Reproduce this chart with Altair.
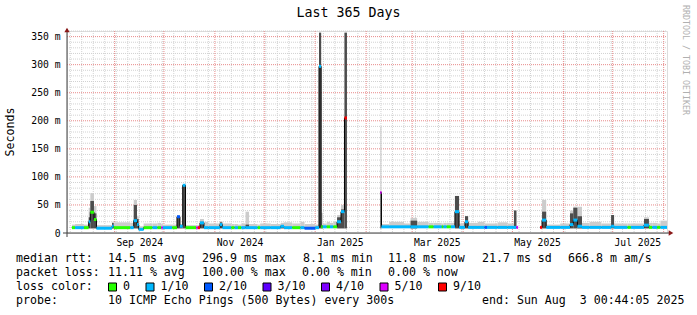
import altair as alt
import pandas as pd

FONT = "DejaVu Sans Mono"
N = None

# ---------------- data (day offsets from window start 2024-08-03 00:44:05) ----------------
seg_start = [0.0, 3.0, 4.9, 10.3, 13.2, 14.2, 16.4, 17.9, 27.4, 28.4,
             38.5, 40.6, 42.6, 43.6, 46.6, 52.0, 55.0, 57.3, 58.3, 64.0,
             66.9, 68.7, 70.4, 72.1, 78.6, 79.6, 80.9, 83.3, 86.0, 93.0,
             94.5, 100.0, 102.0, 104.0, 106.0, 108.6, 110.7, 116.0, 117.5, 124.0,
             130.0, 132.0, 137.0, 142.0, 144.5, 151.0, 153.3, 154.6, 155.6, 158.0,
             160.0, 162.0, 164.3, 166.7, 168.8, 170.3, 190.6, 191.3, 196.0, 205.0,
             209.0, 213.0, 220.0, 223.0, 228.0, 229.0, 231.0, 233.5, 236.0, 238.5,
             242.1, 244.0, 250.0, 254.0, 255.5, 262.0, 268.0, 271.9, 273.4, 274.4,
             287.8, 289.0, 291.5, 300.0, 306.0, 308.0, 310.5, 313.3, 318.0, 325.0,
             331.0, 332.8, 341.0, 343.0, 351.0, 354.0, 356.0, 359.0, 361.0]
# median rtt (ms)
seg_median = [N, 9.5, 9.5, 9.5, 20, 37, 24, 8.5, 12, 9.5,
              9.5, 22, 15, 6.5, 9.5, 9.5, 9.5, 9.5, 9.5, 9.5,
              29, 12, 85, 9.5, 9.5, 9.5, 18, 9.5, 9.5, 15,
              9.5, 9.5, 9.5, 9.5, 9.5, 9.5, 9.5, 9.5, 9.5, 9.5,
              12, 9.5, 9.5, 9.5, 8.5, 9.5, 297, 11, 11, 11,
              11, 11, 20, 38, 205, N, 72, 11, 11, 11,
              11, 11, 11, 11, 11, 11, 11, 11, 38, 10,
              20, 10, 10, 10, 10, 10, 10, 10, 10, N,
              10, 23, 10, 10, 15, 23, 12, 10, 10, 10,
              12, 10, 10, 10, 14, 10, 10, 10, 10]
# top of dense (dark) smoke (ms)
seg_dense = [N, N, N, N, 28, 57, 35, N, 18, N,
             N, 50, 25, N, N, N, N, N, N, N,
             30, 14, 85, N, N, N, 20, N, N, 19,
             N, N, N, N, N, 15, N, N, N, N,
             14, N, N, N, N, N, 357, 14, N, N,
             N, N, 28, 42, 357, N, 72, N, N, N,
             22, N, N, N, N, N, N, N, 66, N,
             30, N, N, N, N, N, N, 40, N, N,
             N, 38, N, N, 35, 45, 30, N, N, N,
             32, N, N, N, 25, N, N, N, N]
# top of light smoke (ms)
seg_smoke = [N, 15, 16, 15, 45, 71, 48, 14, 20, 19,
             18, 59, 30, 12, 17, 17, 18, 16, 15, 15,
             31, 16, 86, 14, 14, 14, 25, 20, 17, 21,
             17, 16, 16, 15, 17, 38, 16, 15, 17, 16,
             18, 19, 17, 20, 16, 15, 357, 36, 17, 20,
             18, 20, 32, 50, 357, N, 190, 16, 20, 17,
             27, 20, 18, 18, 17, 18, 18, 18, 66, 17,
             30, 18, 20, 17, 17, 19, 17, 41, 12, N,
             12, 59, 15, 17, 40, 47, 47, 18, 20, 17,
             32, 17, 17, 17, 28, 18, 18, 17, 22]
# packet loss (pings lost out of 10)
seg_loss = [N, 0, 1, 0, 1, 0, 0, 1, 1, 0,
            1, 1, 1, 1, 0, 1, 0, 5, 1, 0,
            2, 1, 1, 0, 5, 9, 1, 1, 1, 1,
            1, 0, 1, 0, 1, 1, 1, 0, 1, 1,
            1, 1, 0, 1, 2, 1, 1, 0, 1, 0,
            1, 0, 1, 1, 9, N, 5, 1, 1, 1,
            1, 1, 0, 1, 0, 1, 0, 1, 1, 1,
            1, 1, 1, 2, 1, 1, 1, 1, 5, N,
            9, 1, 1, 1, 1, 1, 1, 1, 1, 1,
            1, 1, 0, 1, 1, 0, 1, 0, 1]
min_rtt = 8.1
window_days = 365

loss_levels = [0, 1, 2, 3, 4, 5, 9]
loss_labels = ["0", "1/10", "2/10", "3/10", "4/10", "5/10", "9/10"]
loss_colors = ["#26ff00", "#00b8ff", "#0059ff", "#5e00ff", "#7e00ff", "#dd00ff", "#ff0000"]

y_ticks = [0, 50, 100, 150, 200, 250, 300, 350]
y_minor = [10, 20, 30, 40, 60, 70, 80, 90, 110, 120, 130, 140, 160, 170, 180, 190,
           210, 220, 230, 240, 260, 270, 280, 290, 310, 320, 330, 340, 360]
month_starts = ["2024-09-01", "2024-10-01", "2024-11-01", "2024-12-01", "2025-01-01", "2025-02-01",
                "2025-03-01", "2025-04-01", "2025-05-01", "2025-06-01", "2025-07-01", "2025-08-01"]
label_months = ["2024-09-01", "2024-11-01", "2025-01-01", "2025-03-01", "2025-05-01", "2025-07-01"]
label_texts = ["Sep 2024", "Nov 2024", "Jan 2025", "Mar 2025", "May 2025", "Jul 2025"]

# ---------------- derived tables ----------------
t0 = pd.Timestamp("2024-08-03 00:44:05")
def days(s):
    return (pd.Timestamp(s) - t0) / pd.Timedelta(days=1)

month_days = [days(s) for s in month_starts]
label_days = [days(s) + 15 for s in label_months]
week_days = [days(d) for d in pd.date_range("2024-08-05", "2025-08-02", freq="7D")]

seg_end = seg_start[1:] + [window_days]
seg = pd.DataFrame({"start": seg_start, "end": seg_end, "med": seg_median,
                    "dense": seg_dense, "smoke": seg_smoke, "loss": seg_loss})
seg["lo"] = min_rtt
valid = seg[seg["med"].notna()].copy()
light = valid[valid["smoke"].notna()]
dense = valid[valid["dense"].notna()]

pts = []
run = 0
prev_valid = False
for i, r in seg.iterrows():
    if pd.isna(r["med"]):
        if prev_valid:
            run += 1
        prev_valid = False
        continue
    pts.append({"d": r["start"], "m": r["med"], "run": run})
    nxt_gap = (i + 1 >= len(seg)) or pd.isna(seg.loc[i + 1, "med"])
    if nxt_gap:
        pts.append({"d": r["end"], "m": r["med"], "run": run})
    prev_valid = True
line_df = pd.DataFrame(pts)

# ---------------- layout ----------------
W, H = 600, 202
X0, Y0 = 67, 31
def px(x):
    return x - X0
def py(y):
    return y - Y0

xscale = alt.Scale(domain=[0, window_days], nice=False, zero=False)
yscale = alt.Scale(domain=[0, 360], nice=False, zero=False)

expr = ""
for d, t in zip(label_days, label_texts):
    expr += f"abs(datum.value - {d:.4f}) < 0.5 ? '{t}' : "
expr += "''"

xaxis = alt.Axis(values=label_days, labelExpr=expr, labelFont=FONT, labelFontSize=9.7,
                 labelColor="#000000", labelPadding=4, ticks=False, tickSize=0, domain=False,
                 grid=False, title=None, labelFlush=False, labelOverlap=False, labelAngle=0)
yaxis = alt.Axis(values=y_ticks,
                 labelExpr="datum.value == 0 ? '0\u00a0\u00a0' : datum.value + ' m'",
                 labelFont=FONT, labelFontSize=9.7, labelColor="#000000", labelPadding=7,
                 ticks=False, tickSize=0, domain=False, grid=False, title=None,
                 labelFlush=False, labelOverlap=False)

def X(f):
    return alt.X(f, scale=xscale, axis=xaxis, title=None)
def Y(f):
    return alt.Y(f, scale=yscale, axis=yaxis, title=None)

one = pd.DataFrame({"k": [0]})
MINOR = "#d2d2d2"
MAJOR = "#e88a8a"

layers = []
layers.append(alt.Chart(pd.DataFrame({"v": y_minor})).mark_rule(color=MINOR, strokeDash=[1, 1], strokeWidth=1)
              .encode(y=Y("v:Q"), x=alt.value(0), x2=alt.value(W)))
layers.append(alt.Chart(pd.DataFrame({"d": week_days})).mark_rule(color=MINOR, strokeDash=[1, 1], strokeWidth=1)
              .encode(x=X("d:Q"), y=alt.value(0), y2=alt.value(H)))
layers.append(alt.Chart(pd.DataFrame({"v": y_ticks[1:]})).mark_rule(color=MAJOR, strokeDash=[1, 1], strokeWidth=1)
              .encode(y=Y("v:Q"), x=alt.value(0), x2=alt.value(W)))
layers.append(alt.Chart(pd.DataFrame({"d": month_days})).mark_rule(color=MAJOR, strokeDash=[1, 1], strokeWidth=1)
              .encode(x=X("d:Q"), y=alt.value(0), y2=alt.value(H)))

layers.append(alt.Chart(light).mark_rect(color="#cccccc")
              .encode(x=X("start:Q"), x2="end:Q", y=Y("med:Q"), y2="smoke:Q"))
layers.append(alt.Chart(dense).mark_rect(color="#4d4d4d")
              .encode(x=X("start:Q"), x2="end:Q", y=Y("lo:Q"), y2="dense:Q"))
layers.append(alt.Chart(line_df).mark_line(color="#000000", strokeWidth=1, interpolate="step-after")
              .encode(x=X("d:Q"), y=Y("m:Q"), detail="run:N"))
layers.append(alt.Chart(valid).mark_rule(strokeWidth=3)
              .encode(x=X("start:Q"), x2="end:Q", y=Y("med:Q"),
                      color=alt.Color("loss:O", scale=alt.Scale(domain=loss_levels, range=loss_colors),
                                      legend=None)))

AX = "#404040"
ARROW = "#8b1a1a"
layers.append(alt.Chart(one).mark_rule(color=AX, strokeWidth=1)
              .encode(x=alt.value(0), y=alt.value(py(237)), y2=alt.value(py(29))))
layers.append(alt.Chart(one).mark_rule(color=AX, strokeWidth=1)
              .encode(y=alt.value(H), x=alt.value(px(63)), x2=alt.value(px(670))))
layers.append(alt.Chart(one).mark_point(shape="triangle-up", filled=True, size=28, color=ARROW, opacity=1)
              .encode(x=alt.value(0), y=alt.value(py(30))))
layers.append(alt.Chart(one).mark_point(shape="triangle-right", filled=True, size=28, color=ARROW, opacity=1)
              .encode(x=alt.value(px(671)), y=alt.value(H)))

def txt(s, x, y, size=11.6, align="left", angle=0, color="#000000"):
    return (alt.Chart(one).mark_text(text=s, font=FONT, fontSize=size, align=align, baseline="middle",
                                     angle=angle, color=color)
            .encode(x=alt.value(px(x)), y=alt.value(py(y))))

NB = "\u00a0"
layers.append(txt("Last 365 Days", 348.5, 13, size=13.3, align="center"))
layers.append(txt("Seconds", 11, 132, angle=270, align="center"))
layers.append(txt("RRDTOOL / TOBI OETIKER", 685, 60, size=8.3, align="center", angle=90, color="#b0b0b0"))

rows = [
    (259, [(16, "median rtt:"), (108, "14.5 ms avg"), (202, "296.9 ms max"), (303, "8.1 ms min"),
           (388, "11.8 ms now"), (482, "21.7 ms sd"), (568, "666.8 m am/s")]),
    (273, [(16, "packet loss:"), (108, "11.11 % avg"), (202, "100.00 % max"), (302, "0.00 % min"),
           (388, "0.00 % now")]),
    (287, [(16, "loss color:")]),
    (301, [(16, "probe:"), (108, "10 ICMP Echo Pings (500 Bytes) every 300s"),
           (482, "end: Sun Aug" + NB + NB + "3 00:44:05 2025")]),
]
for y, chunks in rows:
    for x, s in chunks:
        layers.append(txt(s.replace("  ", NB + NB), x, y))

box_x = [108.5, 146, 204.5, 263, 321.5, 380, 438.5]
for bx, lab, col in zip(box_x, loss_labels, loss_colors):
    layers.append(alt.Chart(one).mark_rect(color=col, stroke="#000000", strokeWidth=1)
                  .encode(x=alt.value(px(bx)), x2=alt.value(px(bx + 8)),
                          y=alt.value(py(283)), y2=alt.value(py(291))))
    layers.append(txt(lab, bx + 14.5, 287))

chart = (alt.layer(*layers)
         .properties(width=W, height=H, autosize=alt.AutoSizeParams(type="none"),
                     padding={"left": X0, "top": Y0, "right": 697 - X0 - W, "bottom": 315 - Y0 - H})
         .configure_view(stroke="transparent")
         .configure(background="#ffffff"))

chart.save("out.html", embed_options={"renderer": "svg", "actions": False})
